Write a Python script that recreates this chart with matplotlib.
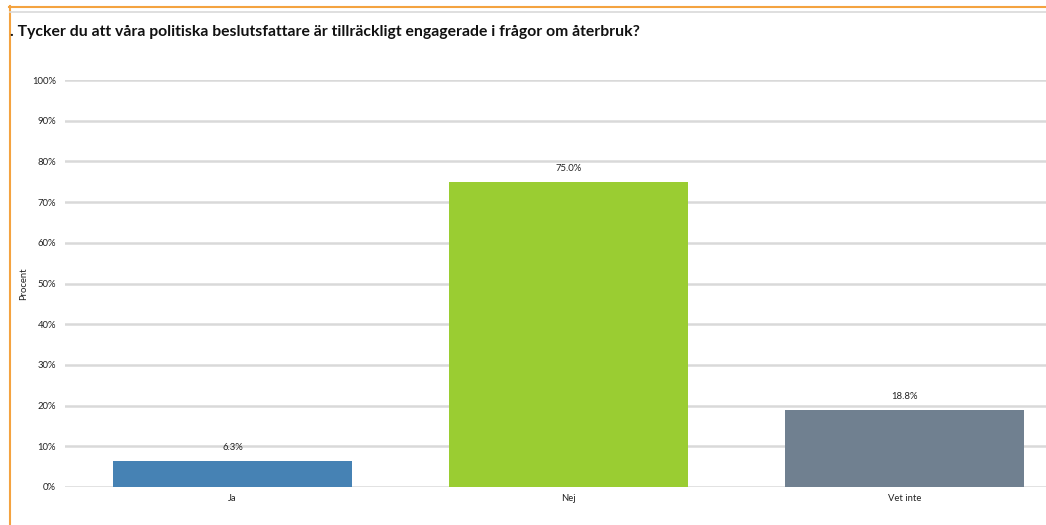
import matplotlib
matplotlib.use("Agg")
import matplotlib.pyplot as plt
from matplotlib.lines import Line2D

categories = ["Ja", "Nej", "Vet inte"]
values = [6.3, 75.0, 18.8]
colors = ["#4682B4", "#9ACD32", "#708090"]
yticks = [0, 10, 20, 30, 40, 50, 60, 70, 80, 90, 100]
ytick_labels = [f"{t}%" for t in yticks]
title = ". Tycker du att våra politiska beslutsfattare är tillräckligt engagerade i frågor om återbruk?"

plt.rcParams['font.family'] = ['Lato', 'DejaVu Sans']

W, H = 1046, 525
fig = plt.figure(figsize=(W / 100, H / 100), dpi=100)

def fx(px):
    return px / W

def fy(py):
    return 1 - py / H

left, right, top, bottom = 64.5, 1072.5, 80, 487
ax = fig.add_axes([fx(left), fy(bottom), fx(right) - fx(left), (bottom - top) / H])
x = list(range(len(categories)))
ax.bar(x, values, width=0.711, color=colors, zorder=3)
ax.set_xlim(-0.5, 2.5)
ax.set_ylim(0, 100)
ax.set_yticks(yticks)
ax.set_yticklabels(ytick_labels)
ax.set_xticks(x)
ax.set_xticklabels(categories)
ax.tick_params(axis='both', length=0, labelsize=6.8, colors="#222222")
ax.tick_params(axis='y', pad=6)
ax.tick_params(axis='x', pad=5)
ax.grid(axis='y', color="#d9d9d9", linewidth=1.8, zorder=0)
for s in ax.spines.values():
    s.set_visible(False)
ax.set_ylabel("Procent", fontsize=6.8, color="#222222")
ax.yaxis.set_label_coords((28 - left) / (right - left), 0.5)

for xi, v in zip(x, values):
    ax.annotate(f"{v:.1f}%", (xi, v), xytext=(0, 6.5), textcoords="offset points",
                ha="center", va="bottom", fontsize=6.8, color="#222222")

fig.text(fx(10), fy(32), title, fontsize=11.3, fontweight="bold", ha="left", va="center", color="#111111")

# frame lines
fig.add_artist(Line2D([fx(9), 1], [fy(6.5), fy(6.5)], color="#F4A340", linewidth=1.5))
fig.add_artist(Line2D([fx(9.5), fx(9.5)], [fy(6), 0], color="#F4A340", linewidth=1.5))
fig.add_artist(Line2D([fx(10), 1], [fy(12), fy(12)], color="#d9d9d9", linewidth=1.2))

fig.savefig("out.png", dpi=100)
